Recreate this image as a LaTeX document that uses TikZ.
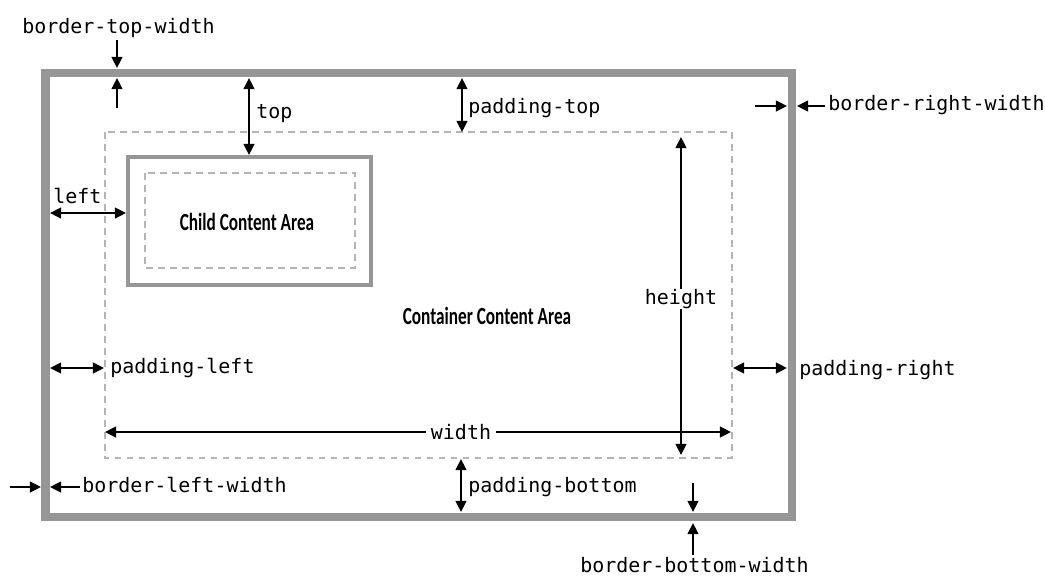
\documentclass[tikz,border=0pt]{standalone}
\usepackage{fontspec}
\setmonofont{DejaVu Sans Mono}
\newfontfamily\areafont[FakeStretch=0.7]{Carlito}
\usetikzlibrary{arrows.meta}
\definecolor{boxgray}{RGB}{150,150,150}
\definecolor{dashgray}{RGB}{180,180,180}

\begin{document}
\begin{tikzpicture}[x=0.025cm,y=-0.025cm,
    outerborder/.style={draw=boxgray, line width=0.2cm},
    childborder/.style={draw=boxgray, line width=0.12cm},
    dashbox/.style={draw=dashgray, line width=0.05cm, dash pattern=on 0.17cm off 0.13cm},
    dim/.style={line width=0.055cm, {Triangle[length=0.28cm,width=0.27cm]}-{Triangle[length=0.28cm,width=0.27cm]}},
    half/.style={line width=0.055cm, -{Triangle[length=0.28cm,width=0.27cm]}},
    lbl/.style={font=\fontsize{14.2}{17}\selectfont\ttfamily, inner sep=0pt, anchor=base west},
    midlbl/.style={font=\fontsize{14.2}{17}\selectfont\ttfamily, fill=white, inner xsep=0.12cm, inner ysep=0pt},
    area/.style={font=\fontsize{17.5}{20}\selectfont\areafont\bfseries, inner sep=0pt}]
    \useasboundingbox (0,0) rectangle (1045,575);

    \draw[outerborder] (45.5,73) rectangle (791.5,517);
    \draw[dashbox] (104.5,132) rectangle (732,458);
    \draw[childborder] (128,157) rectangle (371,285);
    \draw[dashbox] (145,173) rectangle (355,268);

    \node[area] (child) at (247,222) {Child Content Area};
    \node[area] (container) at (487,316) {Container Content Area};

    \node[lbl] (btw) at (22,33) {border-top-width};
    \node[lbl] (top) at (256,118) {top};
    \node[lbl] (pt) at (468,113) {padding-top};
    \node[lbl] (brw) at (828,110) {border-right-width};
    \node[lbl] (left) at (53,203) {left};
    \node[lbl] (pl) at (110,373) {padding-left};
    \node[lbl] (pr) at (799,375) {padding-right};
    \node[lbl] (blw) at (82,492) {border-left-width};
    \node[lbl] (pb) at (468,492) {padding-bottom};
    \node[lbl] (bbw) at (580,572) {border-bottom-width};

    \coordinate (btw1) at (117,40);
    \coordinate (btw2) at (117,68);
    \coordinate (btw3) at (117,108);
    \coordinate (btw4) at (117,78);
    \coordinate (top1) at (249,78);
    \coordinate (top2) at (249,155);
    \coordinate (pt1) at (462,78);
    \coordinate (pt2) at (462,132);
    \coordinate (brw1) at (755,106);
    \coordinate (brw2) at (787,106);
    \coordinate (brw3) at (825,106);
    \coordinate (brw4) at (797,106);
    \coordinate (left1) at (50,213);
    \coordinate (left2) at (126,213);
    \coordinate (ht1) at (681,137);
    \coordinate (ht2) at (681,455);
    \coordinate (pl1) at (50,368);
    \coordinate (pl2) at (104,368);
    \coordinate (pr1) at (733,368);
    \coordinate (pr2) at (787,368);
    \coordinate (wd1) at (105,432);
    \coordinate (wd2) at (731,432);
    \coordinate (blw1) at (10,487);
    \coordinate (blw2) at (41,487);
    \coordinate (blw3) at (80,487);
    \coordinate (blw4) at (50,487);
    \coordinate (pb1) at (461,459);
    \coordinate (pb2) at (461,512);
    \coordinate (bbw1) at (693,483);
    \coordinate (bbw2) at (693,512);
    \coordinate (bbw3) at (693,555);
    \coordinate (bbw4) at (693,523);

    %Frecce

    \draw[half] (btw1) -- (btw2);
    \draw[half] (btw3) -- (btw4);
    \draw[dim] (top1) -- (top2);
    \draw[dim] (pt1) -- (pt2);
    \draw[half] (brw1) -- (brw2);
    \draw[half] (brw3) -- (brw4);
    \draw[dim] (left1) -- (left2);
    \draw[dim] (ht1) -- (ht2);
    \draw[dim] (pl1) -- (pl2);
    \draw[dim] (pr1) -- (pr2);
    \draw[dim] (wd1) -- (wd2);
    \draw[half] (blw1) -- (blw2);
    \draw[half] (blw3) -- (blw4);
    \draw[dim] (pb1) -- (pb2);
    \draw[half] (bbw1) -- (bbw2);
    \draw[half] (bbw3) -- (bbw4);

    \node[midlbl] (height) at (681,299) {height};
    \node[midlbl] (width) at (461,432) {width};
\end{tikzpicture}
\end{document}
